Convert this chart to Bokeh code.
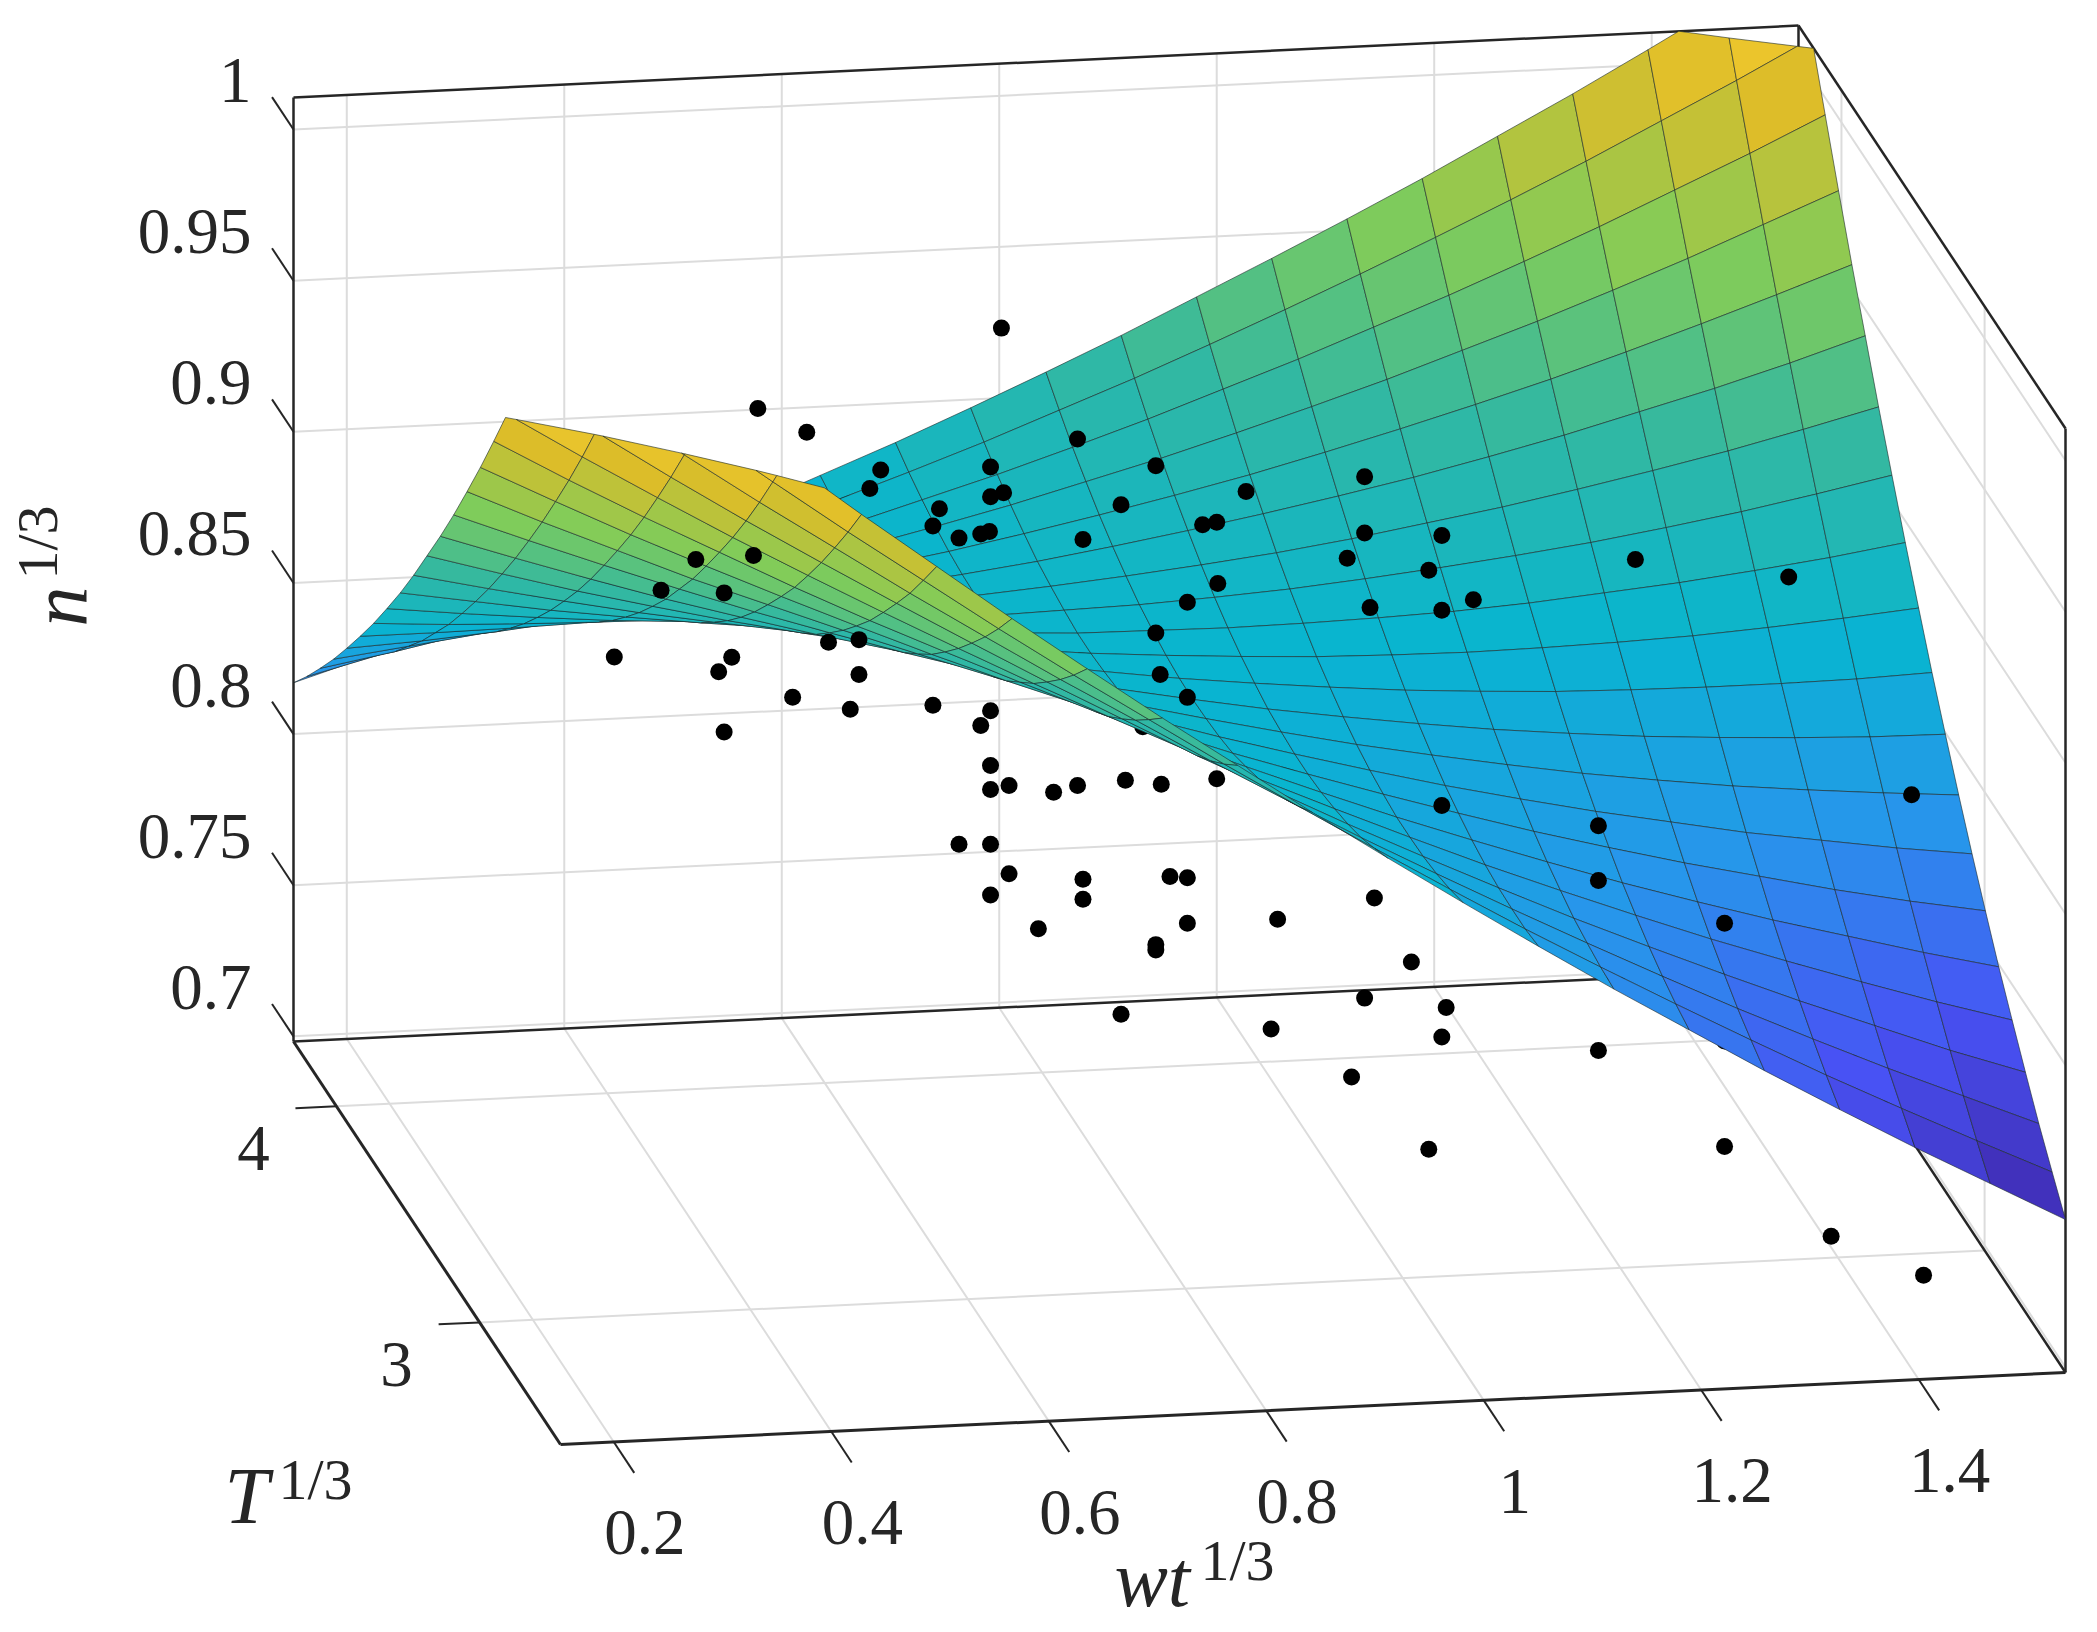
from bokeh.plotting import figure
from bokeh.embed import file_html
from bokeh.resources import INLINE
from bokeh.core.properties import value

# ---- axes -------------------------------------------------------------
wt_limits = (0.151, 1.535)
T_limits = (2.435, 4.30)
n_limits = (0.6983, 1.0106)
wt_ticks = [0.2, 0.4, 0.6, 0.8, 1.0, 1.2, 1.4]
wt_tick_labels = ["0.2", "0.4", "0.6", "0.8", "1", "1.2", "1.4"]
T_ticks = [3, 4]
T_tick_labels = ["3", "4"]
n_ticks = [0.7, 0.75, 0.8, 0.85, 0.9, 0.95, 1.0]
n_tick_labels = ["0.7", "0.75", "0.8", "0.85", "0.9", "0.95", "1"]

# ---- surface: height as a fraction of the n axis.
# One row per T step (T_min to T_max), one column per wt step (wt_min to wt_max).
surface_height = [
 [1.220,1.156,1.093,1.031,.970,.911,.852,.795,.739,.685,.631,.579,.528,.478,.429,.382,.335,.290,.246,.204,.162],
 [1.164,1.104,1.045,.987,.930,.875,.820,.767,.716,.665,.616,.568,.521,.475,.431,.388,.346,.305,.266,.228,.191],
 [1.110,1.053,.998,.944,.892,.840,.790,.741,.694,.647,.602,.558,.516,.475,.435,.396,.358,.322,.287,.254,.221],
 [1.057,1.005,.953,.903,.855,.808,.762,.717,.674,.631,.591,.551,.513,.476,.440,.406,.373,.341,.311,.281,.254],
 [1.006,.957,.910,.864,.820,.777,.735,.694,.655,.617,.581,.546,.512,.479,.448,.418,.389,.362,.336,.311,.288],
 [.956,.911,.868,.827,.786,.747,.710,.674,.639,.605,.573,.542,.512,.484,.457,.431,.407,.384,.363,.342,.323],
 [.907,.867,.828,.791,.755,.720,.686,.654,.624,.595,.566,.540,.515,.491,.468,.447,.427,.409,.391,.375,.361],
 [.860,.824,.790,.756,.725,.694,.665,.637,.611,.586,.562,.540,.519,.499,.481,.464,.449,.434,.422,.410,.400],
 [.814,.783,.753,.724,.696,.670,.645,.622,.600,.579,.560,.542,.525,.510,.496,.483,.472,.462,.454,.447,.441],
 [.770,.743,.717,.692,.669,.647,.627,.608,.590,.574,.559,.545,.533,.522,.512,.504,.497,.492,.488,.485,.484],
 [.728,.705,.683,.663,.644,.627,.611,.596,.583,.571,.560,.551,.543,.536,.531,.527,.525,.524,.524,.525,.528],
 [.686,.668,.651,.635,.621,.608,.596,.586,.577,.569,.563,.558,.554,.552,.551,.552,.554,.557,.562,.568,.575],
 [.646,.633,.620,.609,.599,.590,.583,.577,.573,.569,.568,.567,.568,.570,.573,.578,.585,.592,.601,.611,.623],
 [.608,.599,.591,.584,.579,.575,.572,.570,.570,.572,.574,.578,.583,.590,.598,.607,.617,.629,.642,.657,.673],
 [.571,.566,.563,.561,.560,.561,.562,.565,.570,.576,.583,.591,.600,.611,.624,.637,.652,.668,.685,.704,.724],
 [.536,.536,.537,.539,.543,.548,.555,.562,.571,.581,.593,.606,.620,.635,.651,.669,.688,.709,.730,.753,.778],
 [.502,.506,.512,.520,.528,.538,.549,.561,.574,.589,.605,.622,.640,.660,.681,.703,.726,.751,.777,.804,.832],
 [.469,.479,.489,.501,.514,.529,.544,.561,.579,.598,.619,.640,.663,.687,.712,.739,.766,.795,.825,.857,.889],
 [.438,.452,.468,.485,.502,.522,.542,.563,.586,.609,.634,.660,.688,.716,.746,.776,.808,.841,.876,.911,.948],
 [.408,.428,.448,.470,.492,.516,.541,.567,.594,.622,.652,.682,.714,.747,.781,.816,.852,.889,.928,.967,1.008],
 [.380,.404,.430,.456,.484,.512,.542,.573,.604,.637,.671,.706,.743,.780,.818,.857,.898,.939,.982,1.026,1.070],
]
height_colour_limits = (0.162, 1.22)

# ---- measured points, read as (wt, n) on the back plane T = T_max
points_wt = [.802,.578,.623,.872,.792,.944,1.136,.691,.681,.804,.792,.912,1.027,.745,.739,.763,.783,.791,.877,.987,
 1.000,1.136,1.207,1.120,1.195,1.385,1.526,1.001,.973,1.141,1.207,1.236,.944,.948,.973,.521,.574,.489,.547,.643,
 .671,.554,.542,.446,.671,.610,.663,.547,.739,.792,.783,1.000,.792,.809,.792,.850,.872,.916,.949,1.207,
 1.351,1.639,.763,.792,.809,.792,.877,.877,.957,.973,1.351,1.145,1.056,.973,.836,.944,.944,1.179,1.467,.912,
 1.136,1.211,1.050,1.207,1.351,1.124,1.195,1.467,1.565,1.650]
points_n = [.9231,.9004,.8917,.8852,.8773,.8751,.8682,.8781,.8721,.8686,.8675,.8628,.8652,.8643,.8587,.8543,.8553,.8560,.8519,.8549,
 .8555,.8496,.8475,.8415,.8362,.8365,.8283,.8352,.8295,.8248,.8228,.8258,.8198,.8060,.7980,.8514,.8518,.8418,.8399,.8219,
 .8223,.8185,.8139,.8204,.8108,.8043,.7994,.7939,.7994,.7967,.7920,.7706,.7786,.7717,.7706,.7687,.7706,.7716,.7697,.7582,
 .7490,.7543,.7530,.7525,.7425,.7357,.7395,.7329,.7390,.7383,.7309,.7287,.7232,.7233,.7238,.7167,.7149,.7069,.7148,.6942,
 .6957,.6913,.6870,.6816,.6747,.6698,.6447,.6409,.6095,.5952]
hidden_points_wt = [.659,.650,.773,.878,.932,.971,1.067,1.467]
hidden_points_n = [.8676,.8363,.8139,.8125,.7890,.7839,.7743,.6758]

# ---- parula anchors
parula = [(62,38,168),(72,82,244),(39,150,235),(8,181,208),(51,184,161),(129,204,89),(220,189,41),(252,207,48),(249,251,21)]

# ---- view: screen position of the box corner and of each axis span
ORIGIN = (560.0, 1444.0)
WT_SPAN = (1505.0, -72.0)
T_SPAN = (-267.0, -403.0)
N_SPAN = (0.0, -944.0)
INK = "#262626"
GRID = "#dcdcdc"
SERIF = value("Liberation Serif")


def project(wt, T, n):
    a = (wt - wt_limits[0]) / (wt_limits[1] - wt_limits[0])
    b = (T - T_limits[0]) / (T_limits[1] - T_limits[0])
    c = (n - n_limits[0]) / (n_limits[1] - n_limits[0])
    return (ORIGIN[0] + a * WT_SPAN[0] + b * T_SPAN[0],
            ORIGIN[1] + a * WT_SPAN[1] + b * T_SPAN[1] + c * N_SPAN[1])


def colour(h):
    t = (h - height_colour_limits[0]) / (height_colour_limits[1] - height_colour_limits[0])
    t = max(0.0, min(1.0, t)) * (len(parula) - 1)
    i = min(int(t), len(parula) - 2)
    f = t - i
    c = [round(parula[i][k] + (parula[i + 1][k] - parula[i][k]) * f) for k in range(3)]
    return "#%02x%02x%02x" % tuple(c)


def clip_top(poly):
    """Cut a polygon of (wt, T, n) vertices at the top of the n axis."""
    out = []
    top = n_limits[1]
    for i, cur in enumerate(poly):
        nxt = poly[(i + 1) % len(poly)]
        if cur[2] <= top:
            out.append(cur)
        if (cur[2] <= top) != (nxt[2] <= top):
            f = (top - cur[2]) / (nxt[2] - cur[2])
            out.append(tuple(cur[k] + (nxt[k] - cur[k]) * f for k in range(3)))
    return out


p = figure(width=2089, height=1624, x_range=(0, 2089), y_range=(1624, 0),
           output_backend="svg", toolbar_location=None, min_border=0,
           outline_line_color=None, background_fill_color="white")
p.axis.visible = False
p.grid.visible = False


def seg(a, b, color=INK, width=2.5):
    pa, pb = project(*a), project(*b)
    p.line([pa[0], pb[0]], [pa[1], pb[1]], line_color=color, line_width=width)


W0, W1 = wt_limits
T0, T1 = T_limits
N0, N1 = n_limits

# grid on the back wall, the right wall and the floor
for w in wt_ticks:
    seg((w, T1, N0), (w, T1, N1), GRID, 2)
    seg((w, T0, N0), (w, T1, N0), GRID, 2)
for t in T_ticks:
    seg((W1, t, N0), (W1, t, N1), GRID, 2)
    seg((W0, t, N0), (W1, t, N0), GRID, 2)
for v in n_ticks:
    seg((W0, T1, v), (W1, T1, v), GRID, 2)
    seg((W1, T0, v), (W1, T1, v), GRID, 2)

# box lines
seg((W0, T1, N1), (W1, T1, N1))
seg((W0, T1, N0), (W0, T1, N1))
seg((W0, T1, N0), (W1, T1, N0))
seg((W1, T1, N0), (W1, T1, N1))
seg((W1, T1, N1), (W1, T0, N1))
seg((W1, T0, N0), (W1, T0, N1))
seg((W0, T0, N0), (W1, T0, N0), INK, 3)
seg((W0, T0, N0), (W0, T1, N0), INK, 3)
seg((W1, T0, N0), (W1, T1, N0))

# ticks and tick labels
for w, lab in zip(wt_ticks, wt_tick_labels):
    seg((w, T0, N0), (w, T0 - 0.143, N0), INK, 2)
    x, y = project(w, T0, N0)
    p.text([x], [y], text=[lab], text_font=SERIF, text_font_size="65px", text_color=INK,
           text_align="center", text_baseline="middle", x_offset=31, y_offset=91)
for t, lab in zip(T_ticks, T_tick_labels):
    seg((W0, t, N0), (W0 - 0.0377, t, N0), INK, 2)
    x, y = project(W0, t, N0)
    p.text([x], [y], text=[lab], text_font=SERIF, text_font_size="65px", text_color=INK,
           text_align="center", text_baseline="middle", x_offset=-83, y_offset=42)
for v, lab in zip(n_ticks, n_tick_labels):
    seg((W0, T1, v), (W0, T1 + 0.15, v), INK, 2)
    x, y = project(W0, T1, v)
    p.text([x], [y], text=[lab], text_font=SERIF, text_font_size="65px", text_color=INK,
           text_align="right", text_baseline="middle", x_offset=-42, y_offset=-49)

# points the surface covers
hx, hy = zip(*[project(w, T1, v) for w, v in zip(hidden_points_wt, hidden_points_n)])
p.scatter(list(hx), list(hy), size=17, color="black", line_color=None)

# surface, painted from the far T row to the near one
rows = len(surface_height)
cols = len(surface_height[0])
xs, ys, fills = [], [], []
for r in range(rows - 2, -1, -1):
    for c in range(cols - 1):
        corners = []
        total = 0.0
        for rr, cc in ((r, c), (r, c + 1), (r + 1, c + 1), (r + 1, c)):
            h = surface_height[rr][cc]
            total += h
            corners.append((W0 + (W1 - W0) * cc / (cols - 1),
                            T0 + (T1 - T0) * rr / (rows - 1),
                            N0 + (N1 - N0) * h))
        poly = clip_top(corners)
        if len(poly) < 3:
            continue
        pts = [project(*q) for q in poly]
        xs.append([q[0] for q in pts])
        ys.append([q[1] for q in pts])
        fills.append(colour(total / 4))
p.patches(xs, ys, fill_color=fills, line_color="#1c2a2a", line_alpha=0.6, line_width=1)

# points in front of the surface
fx, fy = zip(*[project(w, T1, v) for w, v in zip(points_wt, points_n)])
p.scatter(list(fx), list(fy), size=17, color="black", line_color=None)

# axis titles
def label(x, y, text, size, style="normal", angle=0.0):
    p.text([x], [y], text=[text], text_font=SERIF, text_font_size=size, text_font_style=style,
           text_color=INK, text_align="left", text_baseline="alphabetic", angle=angle)

label(224, 1495, "T", "80px", "italic")
label(278, 1479, "1/3", "58px")
label(1114, 1578, "wt", "80px", "italic")
label(1200, 1560, "1/3", "58px")
label(58, 626, "n", "80px", "italic", angle=1.5708)
label(37, 579, "1/3", "58px", angle=1.5708)

open("out.html", "w").write(file_html(p, INLINE))
